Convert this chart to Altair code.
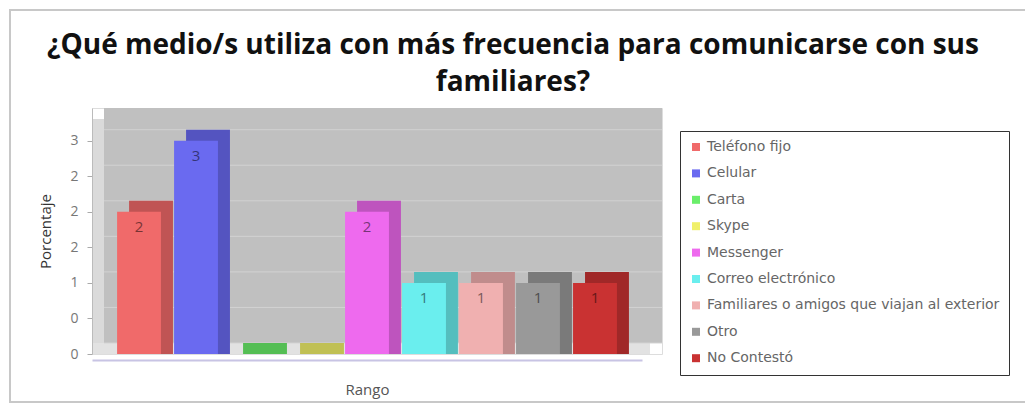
import altair as alt
import pandas as pd

categories = ["Teléfono fijo", "Celular", "Carta", "Skype", "Messenger",
              "Correo electrónico", "Familiares o amigos que viajan al exterior",
              "Otro", "No Contestó"]
values = [2, 3, 0, 0, 2, 1, 1, 1, 1]
palette = ["#f06a6a", "#6a6af0", "#6aee6a", "#f0f06a", "#ee6aee",
           "#6aeeee", "#f0b0b0", "#999999", "#c93232"]
tick_values = [0, 0.5, 1, 1.5, 2, 2.5, 3]
tick_labels = ["0", "0", "1", "2", "2", "2", "3"]

DEPTH = 0.155  # 3D depth in data units
W, H = 570, 246
YMAX = 3.46

df = pd.DataFrame({"cat": categories, "val": values})
df["top"] = df["val"] + DEPTH
grid_df = pd.DataFrame({"t": tick_values})
grid_df["g"] = grid_df["t"] + DEPTH
one = pd.DataFrame({"k": [0]})

label_expr = "''"
for v, l in zip(reversed(tick_values), reversed(tick_labels)):
    label_expr = f"datum.value == {v} ? '{l}' : ({label_expr})"

xscale = alt.Scale(domain=categories, range=[0, 550], paddingInner=0.23, paddingOuter=0.44)
yscale = alt.Scale(domain=[0, YMAX], nice=False, zero=True)
cscale = alt.Scale(domain=categories, range=palette)

legend = alt.Legend(title=None, orient="none", legendX=588, legendY=23,
                    symbolType="square", symbolSize=64, symbolStrokeWidth=0,
                    labelFontSize=14, labelColor="#666666",
                    labelFont="DejaVu Sans", labelLimit=400, labelOffset=4,
                    rowPadding=12.4, padding=9, zindex=1,
                    strokeColor="#333333", fillColor="white")

frame = alt.Chart(one).mark_rect(fill="transparent", stroke="#c8c8c8", strokeWidth=2).encode(
    x=alt.value(-82), x2=alt.value(934), y=alt.value(-98), y2=alt.value(294))

back_wall = alt.Chart(one).mark_rect(fill="#c0c0c0").encode(
    x=alt.value(12), x2=alt.value(W), y=alt.value(0), y2=alt.value(H - 11))
left_wall = alt.Chart(one).mark_rect(fill="#dadada").encode(
    x=alt.value(0), x2=alt.value(12), y=alt.value(11), y2=alt.value(H))
floor = alt.Chart(one).mark_rect(fill="#e2e2e2").encode(
    x=alt.value(0), x2=alt.value(W - 12), y=alt.value(H - 11), y2=alt.value(H))

grid = alt.Chart(grid_df).mark_rule(color="#d2d2d2", strokeWidth=1).encode(
    y=alt.Y("g:Q", scale=yscale),
    x=alt.value(12), x2=alt.value(W))

base = alt.Chart(df)

side = base.mark_bar(xOffset=12).encode(
    x=alt.X("cat:N", scale=xscale, sort=categories,
            axis=alt.Axis(labels=False, ticks=False, title="Rango", domainColor="#c8c4e4",
                          domainWidth=2, offset=6, titleFontSize=15, titleColor="#555555",
                          titleFontWeight="normal", titlePadding=22, titleFont="Open Sans",
                          zindex=1)),
    y=alt.Y("top:Q", scale=yscale,
            axis=alt.Axis(values=tick_values, labelExpr=label_expr, grid=False,
                          title="Porcentaje", titleFontSize=15, titleColor="#333333",
                          titleFontWeight="normal", titleFont="Open Sans",
                          labelFontSize=14, labelColor="#777777", labelFont="Open Sans",
                          tickColor="#aaaaaa", tickSize=5, domainColor="#bbbbbb",
                          labelPadding=9, titlePadding=16, zindex=1)),
    y2=alt.datum(0),
    color=alt.Color("cat:N", scale=cscale, sort=categories, legend=legend),
)
side_shade = base.mark_bar(xOffset=12, color="black", opacity=0.2).encode(
    x=alt.X("cat:N", scale=xscale, sort=categories),
    y=alt.Y("top:Q", scale=yscale),
    y2=alt.datum(0),
)
front = base.mark_bar().encode(
    x=alt.X("cat:N", scale=xscale, sort=categories),
    y=alt.Y("val:Q", scale=yscale),
    y2=alt.datum(0),
    color=alt.Color("cat:N", scale=cscale, sort=categories, legend=legend),
)
labels = base.transform_filter("datum.val > 0").mark_text(
    baseline="middle", dy=15, fontSize=15, font="Open Sans", color="black", opacity=0.5
).encode(
    x=alt.X("cat:N", scale=xscale, sort=categories),
    y=alt.Y("val:Q", scale=yscale),
    text=alt.Text("val:Q"),
)

chart = alt.layer(frame, back_wall, left_wall, floor, grid, side, side_shade, front, labels).properties(
    width=W, height=H,
    padding={"left": 84, "top": 100, "right": 363, "bottom": 50},
    autosize=alt.AutoSizeParams(type="none"),
    title=alt.TitleParams(
        text=["¿Qué medio/s utiliza con más frecuencia para comunicarse con sus", "familiares?"],
        font="Open Sans", fontSize=28, fontWeight="bold", color="#111111",
        anchor="middle", frame="group", dx=136, dy=98, offset=10, lineHeight=37),
).configure_view(stroke=None).configure(background="white")

chart.save("out.html", embed_options={"renderer": "svg", "actions": False})
